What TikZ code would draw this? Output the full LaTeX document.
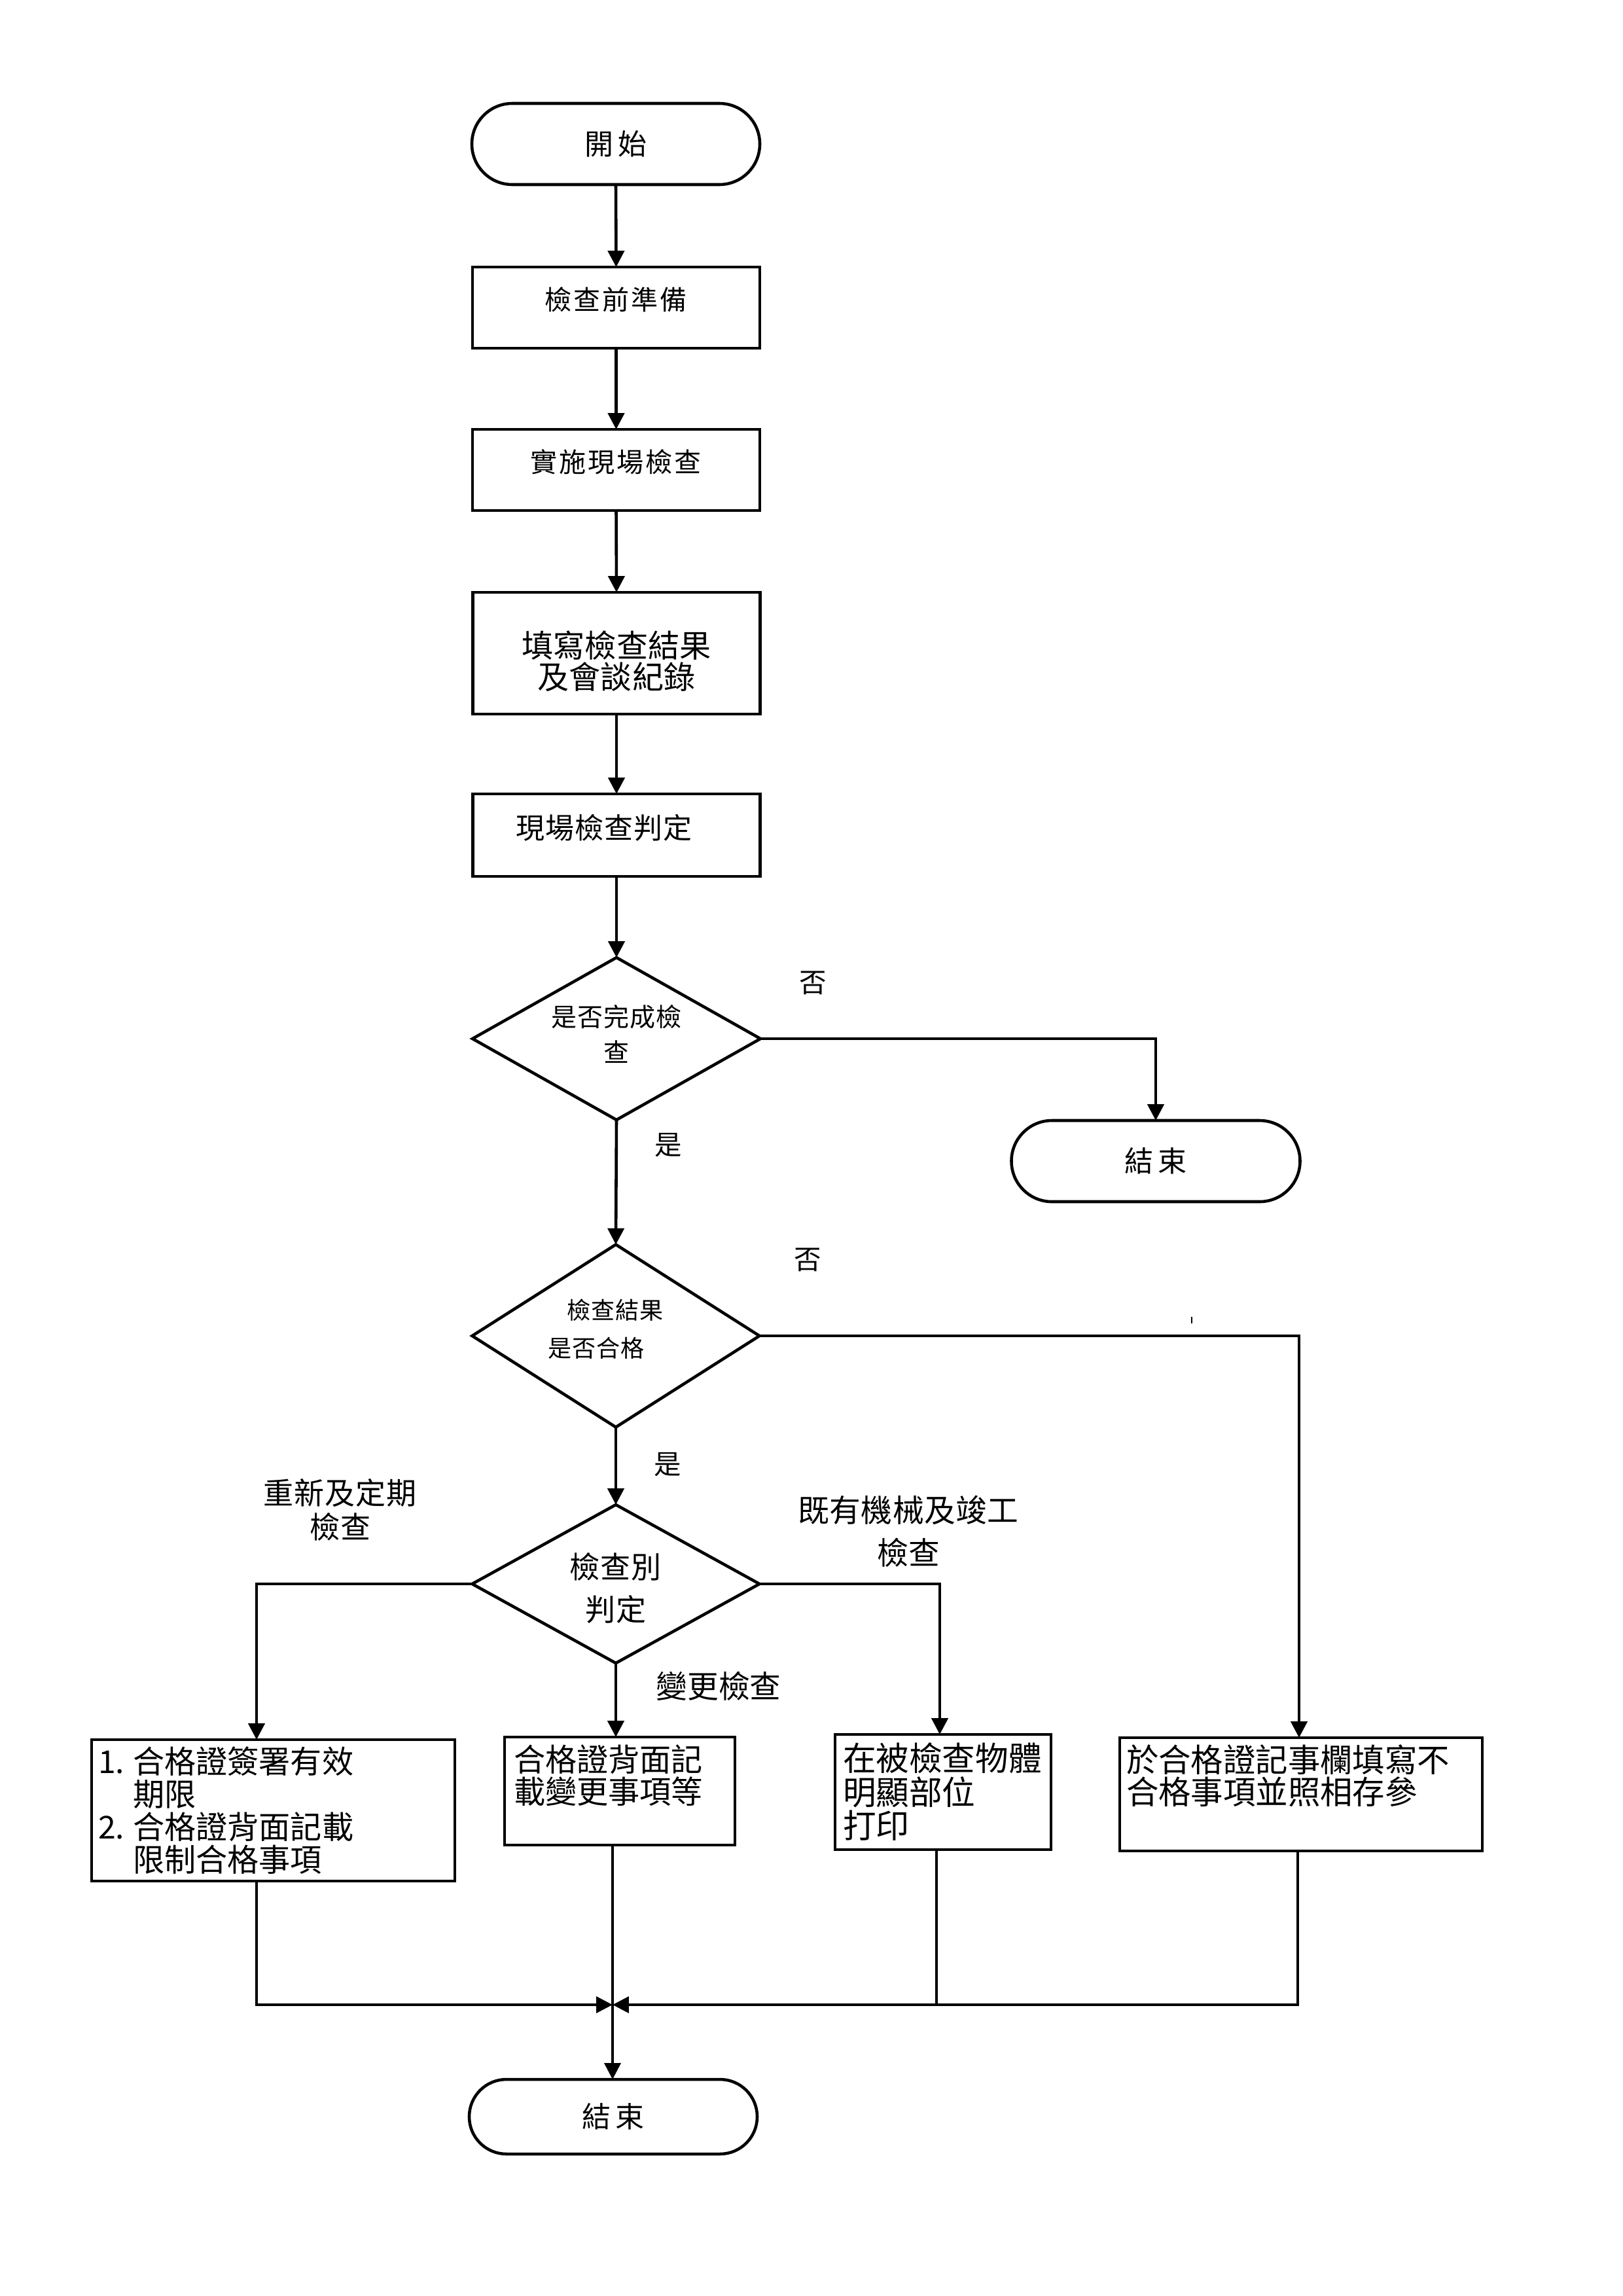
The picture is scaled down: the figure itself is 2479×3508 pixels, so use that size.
\documentclass[tikz,border=0pt]{standalone}
\usepackage{fontspec}
\setmainfont{Noto Sans CJK TC}
\usetikzlibrary{arrows.meta,shapes.geometric,calc}
\newcommand{\PX}{0.24089pt}
\newcommand{\fsz}[3]{\fontsize{#1pt}{#2pt}\selectfont\addfontfeatures{LetterSpace=#3}}
\begin{document}
\begin{tikzpicture}[x=0.24089pt,y=-0.24089pt,
  every node/.style={inner sep=0pt, outer sep=0pt},
  term/.style={draw, line width=1.1pt, rectangle, align=center},
  box/.style={draw, line width=1.1pt, rectangle, align=center},
  dia/.style={draw, line width=1.1pt, diamond, align=center},
  arr/.style={line width=1.1pt, -{Triangle[length=6pt,width=6pt]}},
  arrthin/.style={line width=0.9pt, -{Triangle[length=6pt,width=6pt]}},
  thinline/.style={line width=0.9pt},
  lbl/.style={align=center}]
\fill[white] (0,0) rectangle (2479,3508);
\useasboundingbox (0,0) rectangle (2479,3508);

% main column
\node[term, rounded corners=14.9pt, minimum width={440*\PX}, minimum height={124*\PX}, font=\fsz{10.6}{12}{18}] (start) at (941,220) {開始};
\node[box, minimum width={439*\PX}, minimum height={124*\PX}] (b1) at (941.5,470) {};
\node[font=\fsz{9.9}{12}{7}] (t1) at (941,458) {檢查前準備};
\node[box, minimum width={439*\PX}, minimum height={124*\PX}] (b2) at (941.5,718) {};
\node[font=\fsz{9.9}{12}{7}] (t2) at (941,706) {實施現場檢查};
\node[box, minimum width={439*\PX}, minimum height={186*\PX}] (b3) at (942,998) {};
\node[align=center, font=\fsz{11.6}{11.6}{0}] (t3) at (942,1010) {填寫檢查結果\\及會談紀錄};
\node[box, minimum width={439*\PX}, minimum height={126*\PX}] (b4) at (942,1276) {};
\node[font=\fsz{10.6}{12}{2}] (t4) at (923,1265) {現場檢查判定};

\node[dia, aspect=1.77, minimum width={440*\PX}, minimum height={248*\PX}] (d1) at (942,1587) {};
\node[align=center, font=\fsz{9.4}{13}{3}] (d1t) at (942,1580) {是否完成檢\\查};
\node[term, rounded corners=14.9pt, minimum width={441*\PX}, minimum height={124*\PX}, font=\fsz{10.6}{12}{18}] (end1) at (1766,1774) {結束};

\node[dia, aspect=1.57, minimum width={439*\PX}, minimum height={279*\PX}] (d2) at (941,2041) {};
\node[font=\fsz{8.7}{12}{3}] (d2a) at (940,2002) {檢查結果};
\node[font=\fsz{8.7}{12}{3}] (d2b) at (911,2060) {是否合格};

\node[dia, aspect=1.81, minimum width={439*\PX}, minimum height={242*\PX}] (d3) at (941,2420) {};
\node[align=center, font=\fsz{11.1}{15.7}{2}] (d3t) at (941,2426) {檢查別\\判定};

% bottom boxes
\node[box, minimum width={555*\PX}, minimum height={216*\PX}] (bA) at (417.5,2766) {};
\node[anchor=north west, align=left, font=\fsz{11.6}{12}{0}] (tA) at (150,2669)
  {\makebox[12.8pt][l]{1.}合格證簽署有效\\\hspace*{12.8pt}期限\\\makebox[12.8pt][l]{2.}合格證背面記載\\\hspace*{12.8pt}限制合格事項};
\node[box, minimum width={352*\PX}, minimum height={165*\PX}] (bB) at (947,2736.5) {};
\node[anchor=north west, align=left, font=\fsz{11.6}{11.8}{0}] (tB) at (785,2666)
  {合格證背面記\\載變更事項等};
\node[box, minimum width={330*\PX}, minimum height={176*\PX}] (bC) at (1441,2738) {};
\node[anchor=north west, align=left, font=\fsz{12.2}{12.3}{0}] (tC) at (1288,2663)
  {在被檢查物體\\明顯部位\\打印};
\node[box, minimum width={554*\PX}, minimum height={173*\PX}] (bD) at (1988,2741.5) {};
\node[anchor=north west, align=left, font=\fsz{11.9}{11.8}{0}] (tD) at (1721,2666)
  {於合格證記事欄填寫不\\合格事項並照相存參};

\node[term, rounded corners=13.7pt, minimum width={440*\PX}, minimum height={114*\PX}, font=\fsz{10.6}{12}{18}] (end2) at (937,3234) {結束};

% labels
\node[font=\fsz{10}{12}{0}] (no1) at (1242,1502) {否};
\node[font=\fsz{10}{12}{0}] (yes1) at (1021,1750) {是};
\node[font=\fsz{10}{12}{0}] (no2) at (1234,1925) {否};
\node[font=\fsz{10}{12}{0}] (yes2) at (1020,2238) {是};
\node[lbl, font=\fsz{11.1}{12.5}{2}] (lperiod) at (520,2307) {重新及定期\\檢查};
\node[lbl, font=\fsz{11.5}{15.7}{1}] (lexist) at (1388,2340) {既有機械及竣工\\檢查};
\node[lbl, font=\fsz{11.5}{12}{0}] (lchange) at (1098,2576) {變更檢查};

% connectors
\draw[arr] (start.south) -- (b1.north);
\draw[arr] (b1.south) -- (b2.north);
\draw[arr] (b2.south) -- (b3.north);
\draw[arr] (b3.south) -- (b4.north);
\draw[arr] (b4.south) -- (d1.north);
\draw[arr] (d1.east) -| (end1.north);
\draw[arr] (d1.south) -- (d2.north);
\draw[arr] (d2.east) -| ($(bD.north)+(-3,0)$);
\draw[arr] (d2.south) -- (d3.north);
\draw[arr] (d3.west) -| ($(bA.north)+(-25.5,0)$);
\draw[arr] (d3.east) -| ($(bC.north)+(-5,0)$);
\draw[arr] (d3.south) -- (d3.south |- bB.north);

% merge
\coordinate (m) at (936,3063);
\coordinate (cA) at ($(bA.south)+(-25.5,0)$);
\coordinate (cC) at ($(bC.south)+(-10,0)$);
\coordinate (cD) at ($(bD.south)+(-5,0)$);
\draw[arrthin] (cA) |- (m);
\draw[arrthin] (cC) |- (m);
\draw[thinline] (cD) |- (cC |- m);
\draw[arrthin] (m |- bB.south) -- (m |- end2.north);

% stray mark
\draw[line width=0.7pt] (1821,2012) -- (1821,2022);
\end{tikzpicture}
\end{document}
